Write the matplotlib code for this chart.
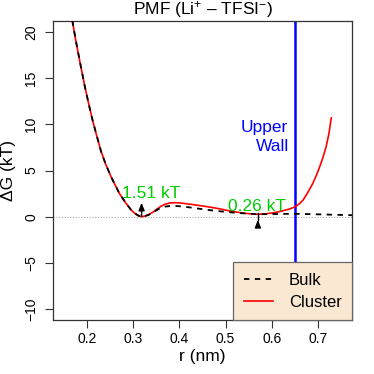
import matplotlib
matplotlib.use("Agg")
import matplotlib.pyplot as plt

# ── Data ──────────────────────────────────────────────────────────────────────
r_left = [0.160, 0.168, 0.175, 0.185, 0.195, 0.203, 0.211, 0.220, 0.230,
          0.240, 0.252, 0.264, 0.270, 0.278, 0.285, 0.295, 0.300, 0.305,
          0.312, 0.318]
g_left = [24.0, 21.2, 19.2, 16.6, 14.1, 12.3, 10.6, 8.9, 7.1,
          5.7, 4.3, 3.1, 2.5, 1.9, 1.4, 0.75, 0.5, 0.3,
          0.08, 0.0]

r_cluster = r_left + [0.325, 0.333, 0.343, 0.352, 0.360, 0.368, 0.379, 0.390,
                      0.400, 0.415, 0.433, 0.451, 0.470, 0.487, 0.503, 0.517,
                      0.532, 0.545, 0.555, 0.565, 0.575, 0.585, 0.595, 0.603,
                      0.615, 0.625, 0.638, 0.650, 0.660, 0.668, 0.678, 0.689,
                      0.697, 0.704, 0.711, 0.718, 0.724, 0.729]
g_cluster = g_left + [0.06, 0.22, 0.5, 0.85, 1.12, 1.33, 1.48, 1.51,
                      1.49, 1.40, 1.28, 1.15, 1.00, 0.85, 0.68, 0.55,
                      0.43, 0.35, 0.30, 0.26, 0.27, 0.30, 0.36, 0.42,
                      0.52, 0.65, 0.82, 1.05, 1.40, 1.80, 2.6, 3.6,
                      4.5, 5.4, 6.4, 7.6, 9.0, 10.7]

r_bulk = r_left + [0.325, 0.333, 0.343, 0.352, 0.360, 0.368, 0.379, 0.395,
                   0.415, 0.444, 0.470, 0.494, 0.520, 0.538, 0.555, 0.570,
                   0.600, 0.630, 0.660, 0.700, 0.740, 0.780]
g_bulk = g_left + [0.05, 0.18, 0.45, 0.75, 0.95, 1.08, 1.15, 1.15,
                   1.05, 0.85, 0.68, 0.55, 0.43, 0.36, 0.30, 0.26,
                   0.28, 0.30, 0.30, 0.25, 0.20, 0.15]

wall_r = 0.65
barrier_r, barrier_g = 0.318, 1.51     # contact-pair minimum and barrier height
second_r, second_g = 0.570, 0.26       # second minimum

GREEN = "#00CD00"
plt.rcParams.update({
    "font.family": ["Liberation Sans", "DejaVu Sans"],
    "mathtext.fontset": "custom",
    "mathtext.rm": "Liberation Sans",
    "mathtext.it": "Liberation Sans:italic",
    "axes.linewidth": 0.9,
    "axes.edgecolor": "#333333",
})

fig = plt.figure(figsize=(3.74, 3.74), dpi=100)
ax = fig.add_axes([53 / 374, 54 / 374, 299 / 374, 299 / 374])

ax.axhline(0, color="#aaaaaa", linestyle=(0, (1, 1.5)), linewidth=0.8, zorder=1)
ax.plot(r_cluster, g_cluster, color="red", linewidth=1.2, label="Cluster", zorder=3)
ax.plot(r_bulk, g_bulk, color="black", linestyle=(0, (3, 3)), linewidth=1.3,
        label="Bulk", zorder=4)
ax.axvline(wall_r, color="#0000FF", linewidth=1.8, zorder=2)

# Upper wall label
ax.text(wall_r - 0.016, 9.2, "Upper", color="#0000FF", ha="right", va="baseline", fontsize=12.5)
ax.text(wall_r - 0.012, 7.15, "Wall", color="#0000FF", ha="right", va="baseline", fontsize=12.5)

# Barrier annotations
ax.annotate("", xy=(barrier_r, barrier_g), xytext=(barrier_r, 0.0),
            arrowprops=dict(arrowstyle="-|>,head_length=0.45,head_width=0.18",
                            color="black", lw=1.0, shrinkA=0, shrinkB=0), zorder=5)
ax.plot([second_r, second_r], [second_g + 0.15, -0.35], color="black", lw=1.0, zorder=5)
ax.annotate("", xy=(second_r, -0.35), xytext=(second_r, -0.95),
            arrowprops=dict(arrowstyle="-|>,head_length=0.45,head_width=0.18",
                            color="black", lw=1.0, shrinkA=0, shrinkB=0), zorder=5)
ax.text(0.338, 2.0, "1.51 kT", color=GREEN, ha="center", va="baseline", fontsize=12.5)
ax.text(0.569, 0.62, "0.26 kT", color=GREEN, ha="center", va="baseline", fontsize=12.5)

ax.set_xlim(0.126, 0.774)
ax.set_ylim(-11.2, 21.2)
ax.set_xticks([0.2, 0.3, 0.4, 0.5, 0.6, 0.7])
ax.set_yticks([-10, -5, 0, 5, 10, 15, 20])
ax.tick_params(axis="both", direction="out", length=5.5, width=0.8,
               color="#333333", labelsize=10)
ax.tick_params(axis="x", pad=3)
ax.tick_params(axis="y", pad=5)
for lab in ax.get_yticklabels():
    lab.set_rotation(90)
    lab.set_va("center")

ax.set_xlabel("r (nm)", fontsize=12.5, labelpad=2)
ax.set_ylabel(r"ΔG (kT)", fontsize=12.5, labelpad=6)
ax.set_title(r"PMF (Li$^{+}$ – TFSI$^{-}$)", fontsize=12.5, pad=5)

handles, labels = ax.get_legend_handles_labels()
leg = ax.legend(handles[::-1], labels[::-1], loc="lower right",
                bbox_to_anchor=(1.0, 0.0), borderaxespad=0,
                fontsize=12, fancybox=False, framealpha=1, facecolor="#FAE8D3",
                edgecolor="#666666", handlelength=1.75, handletextpad=0.95,
                labelspacing=0.42, borderpad=0.62)
leg.get_frame().set_linewidth(0.9)

fig.savefig("out.png", dpi=100)
